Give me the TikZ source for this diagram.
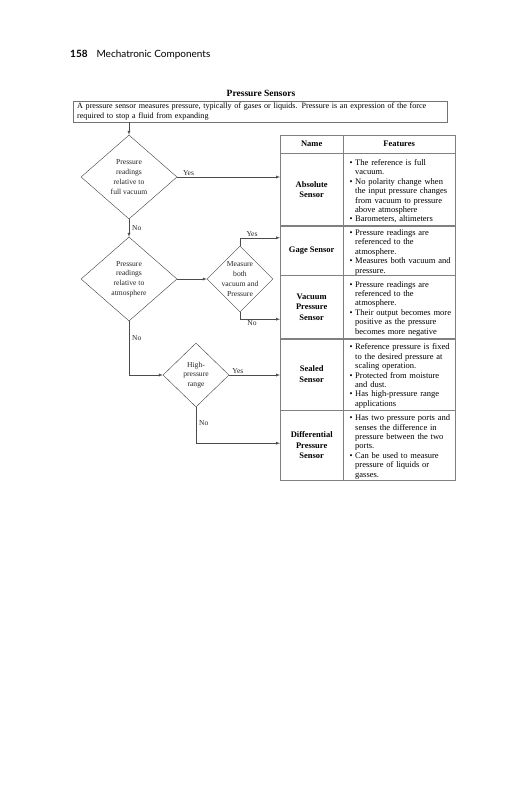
\documentclass[tikz,border=0pt]{standalone}
\usepackage{fontspec}
\setmainfont{Liberation Serif}
\newfontfamily\headfont{Lato}
\usepackage{enumitem}
\setlist[itemize]{label=\textbullet, leftmargin=12pt, labelsep=2.5pt, rightmargin=-8pt, topsep=0pt, partopsep=0pt, itemsep=0pt, parsep=0pt}
\usetikzlibrary{shapes.geometric}

\tikzset{
  decision/.style={diamond, draw=black!75, inner sep=0pt},
  dtext/.style={align=center, inner sep=0pt, text=black!85, font=\fontsize{7.6}{9.7}\selectfont},
  lab/.style={inner sep=1pt, text=black!85, font=\fontsize{7.5}{9}\selectfont},
  flow/.style={draw=black!70, -latex},
  namecell/.style={draw=black!50, anchor=north west, minimum width=63pt, inner sep=0pt, align=center, font=\bfseries\fontsize{8.5}{10.5}\selectfont},
  featcell/.style={draw=black!50, anchor=north west, text width=112pt, inner sep=0pt, font=\fontsize{8.5}{9.4}\selectfont},
}

\begin{document}
\begin{tikzpicture}[x=1pt,y=-1pt]
\path[use as bounding box, fill=white] (0,0) rectangle (531,800);

% page head and title
\node[anchor=base west, inner sep=0pt, font=\headfont\fontsize{10}{12}\selectfont] (head) at (70,58) {\textbf{158}\hspace{9pt}Mechatronic Components};
\node[anchor=base, inner sep=0pt, font=\bfseries\fontsize{9.5}{11}\selectfont] (title) at (261,96) {Pressure Sensors};
\node[draw=black!55, anchor=north west, text width=366pt, inner xsep=4pt, inner ysep=0pt, minimum height=21pt, align=left, font=\fontsize{8.1}{10.5}\selectfont] (intro) at (73,101)
  {A pressure sensor measures pressure, typically of gases or liquids. Pressure is an expression of the force\\required to stop a fluid from expanding};

% decisions
\node[decision, minimum width=96pt, minimum height=84pt] (dFull) at (129,177) {};
\node[dtext] (dFullT) at (dFull) {Pressure\\readings\\relative to\\full vacuum};
\node[decision, minimum width=96pt, minimum height=84pt] (dAtm) at (129,279) {};
\node[dtext] (dAtmT) at (dAtm) {Pressure\\readings\\relative to\\atmosphere};
\node[decision, minimum width=66pt, minimum height=66pt] (dBoth) at (240,279) {};
\node[dtext] (dBothT) at (dBoth) {Measure\\both\\vacuum and\\Pressure};
\node[decision, minimum width=66pt, minimum height=64pt] (dHigh) at (196,375) {};
\node[dtext] (dHighT) at (dHigh) {High-\\pressure\\range};

% table
\node[namecell, minimum height=18pt] (tName) at (280,135) {Name};
\node[featcell, minimum height=18pt, align=center] (tFeat) at (343,135) {\textbf{Features}};
\node[namecell, minimum height=72pt] (abs) at (tName.south west) {Absolute\\Sensor};
\node[featcell, minimum height=72pt] (absF) at (tFeat.south west) {\raggedright
  \begin{itemize}
  \item The reference is full\\vacuum.
  \item No polarity change when\\the input pressure changes\\from vacuum to pressure\\above atmosphere
  \item Barometers, altimeters
  \end{itemize}};
\node[namecell, minimum height=49pt] (gage) at (abs.south west) {Gage Sensor};
\node[featcell, minimum height=49pt] (gageF) at (absF.south west) {\raggedright
  \begin{itemize}
  \item Pressure readings are\\referenced to the\\atmosphere.
  \item Measures both vacuum and\\pressure.
  \end{itemize}};
\node[namecell, minimum height=63pt] (vacu) at (gage.south west) {Vacuum\\Pressure\\Sensor};
\node[featcell, minimum height=63pt] (vacuF) at (gageF.south west) {\raggedright
  \begin{itemize}
  \item Pressure readings are\\referenced to the\\atmosphere.
  \item Their output becomes more\\positive as the pressure\\becomes more negative
  \end{itemize}};
\node[namecell, minimum height=71pt] (seal) at (vacu.south west) {Sealed\\Sensor};
\node[featcell, minimum height=71pt] (sealF) at (vacuF.south west) {\raggedright
  \begin{itemize}
  \item Reference pressure is fixed\\to the desired pressure at\\scaling operation.
  \item Protected from moisture\\and dust.
  \item Has high-pressure range\\applications
  \end{itemize}};
\node[namecell, minimum height=70pt] (diff) at (seal.south west) {Differential\\Pressure\\Sensor};
\node[featcell, minimum height=70pt] (diffF) at (sealF.south west) {\raggedright
  \begin{itemize}
  \item Has two pressure ports and\\senses the difference in\\pressure between the two\\ports.
  \item Can be used to measure\\pressure of liquids or\\gasses.
  \end{itemize}};

% connectors
\draw[flow] (intro.south -| dFull.north) -- (dFull.north);
\draw[flow] (dFull.east) -- (dFull.east -| abs.west) node[lab, pos=0.11, above] {Yes};
\draw[flow] (dFull.south) -- (dAtm.north) node[lab, midway, right, xshift=2pt] {No};
\draw[flow] (dAtm.east) -- (dBoth.west);
\draw[flow] (dBoth.north) -- ++(0,-8) coordinate (bothYes) -- (bothYes -| gage.west) node[lab, pos=0.3, above] {Yes};
\draw[flow] (dBoth.south) -- ++(0,7) coordinate (bothNo) -- (bothNo -| vacu.west) node[lab, pos=0.3, below] {No};
\draw[flow] (dAtm.south) |- (dHigh.west) node[lab, pos=0.16, right, xshift=2pt] {No};
\draw[flow] (dHigh.east) -- (dHigh.east -| seal.west) node[lab, pos=0.17, above] {Yes};
\draw[flow] (dHigh.south) -- node[lab, pos=0.44, right, xshift=2pt] {No} ++(0,36) coordinate (highNo) -- (highNo -| diff.west);
\end{tikzpicture}
\end{document}
